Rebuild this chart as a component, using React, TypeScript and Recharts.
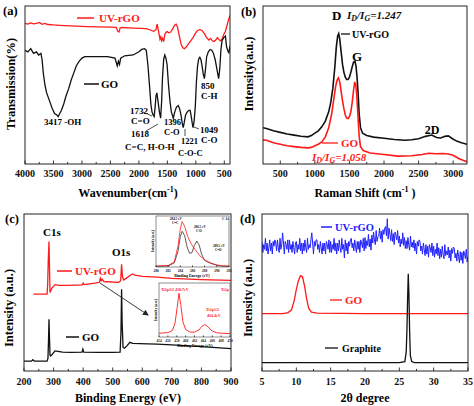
import { LineChart, Line, XAxis, YAxis } from 'recharts'

const FONT = "'Liberation Serif', 'Times New Roman', serif"
const RED = '#ff1a1a'
const BLUE = '#2020ff'
const BLACK = '#111111'

// (a) FTIR: [wavenumber, transmission % of plot height]
const ftirGO: [number, number][] = [
  [4000, 72], [3950, 71], [3900, 73], [3850, 70], [3800, 71], [3760, 69], [3720, 70], [3700, 66],
  [3680, 58], [3650, 50], [3620, 45], [3590, 42], [3560, 39], [3520, 35], [3480, 32], [3440, 31],
  [3417, 30], [3390, 32], [3360, 34], [3320, 38], [3280, 43], [3230, 48], [3190, 53], [3140, 58],
  [3100, 62], [3050, 65], [3000, 67], [2950, 68], [2850, 68], [2700, 68], [2550, 68], [2420, 67],
  [2380, 62], [2360, 65], [2340, 63], [2320, 67], [2250, 68.5], [2100, 69], [2000, 71], [1950, 72.5],
  [1900, 73], [1870, 72], [1840, 62], [1810, 48], [1790, 38], [1770, 33], [1750, 31], [1732, 30],
  [1715, 36], [1700, 43], [1685, 45], [1665, 40], [1640, 33], [1618, 29], [1600, 40], [1585, 55],
  [1565, 66], [1545, 69], [1525, 67], [1505, 63], [1480, 50], [1455, 40], [1430, 33], [1396, 29],
  [1370, 33], [1340, 36], [1310, 37], [1285, 35], [1260, 31], [1240, 26], [1221, 23], [1200, 27],
  [1180, 31], [1150, 33], [1120, 34], [1100, 34], [1080, 30], [1060, 25], [1049, 23], [1030, 27],
  [1010, 36], [990, 52], [970, 62], [950, 66.5], [930, 67.5], [910, 66], [890, 62], [870, 57],
  [850, 54], [830, 60], [810, 68], [780, 71], [750, 72.5], [720, 72], [690, 70], [660, 66],
  [630, 60], [600, 54], [580, 60], [560, 72], [540, 78], [510, 80], [480, 81], [460, 74],
  [420, 70], [400, 75],
]
const ftirRGO: [number, number][] = [
  [4000, 89], [3950, 88.5], [3900, 89.3], [3850, 88.7], [3800, 89], [3750, 89.6], [3700, 88.4],
  [3650, 89], [3600, 88.3], [3500, 88], [3400, 87.8], [3300, 87.6], [3100, 87.3], [2900, 87],
  [2700, 86.8], [2500, 86.6], [2400, 86.5], [2370, 84], [2350, 83.5], [2330, 86], [2300, 86.4],
  [2100, 86], [1950, 85.8], [1850, 85.5], [1780, 84.5], [1740, 84], [1700, 85], [1680, 88.5],
  [1665, 86], [1650, 83], [1630, 79], [1615, 80.5], [1600, 78], [1585, 79.5], [1565, 77.5],
  [1545, 82], [1520, 83.5], [1500, 83.8], [1480, 83], [1440, 83.5], [1400, 86], [1370, 88],
  [1345, 88.5], [1320, 86.5], [1290, 81], [1260, 76], [1230, 73.5], [1200, 73], [1170, 74],
  [1130, 76], [1090, 78], [1050, 80], [1010, 82.5], [970, 84.5], [930, 85], [890, 84.5],
  [850, 82.5], [810, 80], [770, 78.5], [740, 79.5], [710, 78], [680, 77.5], [650, 78.5],
  [620, 80], [600, 79], [570, 78], [540, 79], [510, 82], [480, 84], [450, 88], [420, 92], [400, 94],
]

// (b) Raman: [shift, intensity]
const ramanRGO: [number, number][] = [
  [250, 23], [300, 22.5], [400, 21], [500, 20], [600, 19], [700, 18.3], [800, 17.6], [900, 17.2],
  [950, 18], [1000, 19.5], [1050, 21], [1100, 23.5], [1150, 27], [1200, 33], [1230, 39], [1260, 48],
  [1290, 62], [1310, 74], [1330, 81], [1345, 82.5], [1360, 79], [1380, 71], [1400, 63], [1420, 58],
  [1440, 55], [1460, 53.5], [1480, 53.5], [1500, 55], [1520, 58], [1540, 61.5], [1560, 64.5],
  [1580, 65], [1595, 62], [1610, 55], [1625, 45], [1640, 32], [1660, 23], [1690, 19.5], [1750, 18],
  [1850, 17], [2000, 16.3], [2150, 15.5], [2300, 15], [2400, 15.3], [2500, 16], [2600, 17.5],
  [2690, 18.3], [2760, 16.8], [2820, 16.5], [2880, 17.5], [2930, 17.8], [2990, 16], [3050, 14.5],
  [3120, 13.5], [3200, 12.5],
]
const ramanGO: [number, number][] = [
  [250, 15.3], [300, 15], [400, 13.5], [500, 12.5], [600, 11.5], [700, 11], [800, 10.5], [900, 10.2],
  [950, 10.5], [1000, 11.5], [1050, 12.5], [1100, 14], [1150, 17], [1200, 23], [1240, 31], [1270, 40],
  [1300, 49], [1320, 53], [1340, 54.5], [1360, 52], [1380, 46], [1400, 40], [1420, 35], [1440, 31],
  [1460, 29], [1480, 28.8], [1500, 30], [1520, 33], [1540, 39], [1560, 47], [1575, 51.5], [1590, 51],
  [1605, 44], [1620, 33], [1640, 18], [1660, 11], [1700, 8.5], [1800, 7], [2000, 6], [2200, 5],
  [2400, 5.2], [2550, 6], [2650, 6.8], [2750, 6.5], [2850, 6.6], [2930, 6.3], [3000, 5.5],
  [3080, 3.5], [3150, 2.2], [3200, 1.5],
]

// (c) XPS survey: [binding energy, intensity]
const xpsGO: [number, number][] = [
  [200, 6.3], [225, 6.3], [230, 7.2], [235, 6.3], [278, 6.3], [281, 8], [283, 20], [284.5, 33],
  [286, 22], [288, 10], [290, 9.5], [295, 10.5], [305, 12.8], [315, 12.5], [330, 12], [360, 11.8],
  [396, 12], [399, 14], [402, 12], [450, 11.8], [500, 11.8], [525, 12], [528, 25], [530, 52],
  [532, 30], [535, 15], [540, 14.5], [548, 16], [558, 18.3], [568, 17.6], [590, 17.5], [650, 17.1],
  [700, 16.7], [800, 15.5], [900, 14.2],
]
const xpsRGO: [number, number][] = [
  [232, 49], [260, 49], [278, 49], [280, 55], [282, 70], [284.5, 82.5], [286, 68], [288, 50],
  [290, 51], [295, 53], [305, 55], [320, 54.5], [350, 54.5], [397, 54.8], [400, 56], [403, 55],
  [440, 56], [455, 56.5], [458, 59], [461, 57.5], [464, 58.5], [470, 57], [520, 56.5], [527, 57.5],
  [530, 68], [533, 60], [537, 58], [545, 59], [560, 61], [567, 61.8], [575, 61], [600, 60.3],
  [650, 59.8], [700, 59], [800, 58.2], [900, 57.7],
]
// insets: C1s and Ti2p
const c1sGO: [number, number][] = [
  [280, 1], [282, 2], [283, 8], [283.6, 30], [284, 60], [284.3, 70], [284.7, 62], [285.1, 40],
  [285.5, 27], [285.9, 28], [286.3, 42], [286.7, 51], [287.1, 43], [287.5, 25], [288, 13],
  [288.6, 9], [289.5, 5], [290.5, 2], [292, 1],
]
const c1sRGO: [number, number][] = [
  [280, 2], [282, 3], [283, 10], [283.6, 40], [284, 75], [284.3, 89], [284.7, 80], [285.2, 60],
  [285.8, 45], [286.5, 33], [287.2, 22], [288, 14], [289, 8], [290, 4], [291, 2.5], [292, 2],
]
const ti2p: [number, number][] = [
  [454, 7], [456, 8], [457, 12], [457.6, 25], [458.1, 55], [458.5, 81], [458.9, 60], [459.4, 28],
  [460, 14], [461, 9], [462, 9], [463, 13], [463.7, 20], [464.3, 23], [465, 19], [466, 11],
  [467, 8], [468, 7], [470, 6.5],
]

// (d) XRD
const xrdAngles = [
  5, 5.125, 5.25, 5.375, 5.5, 5.625, 5.75, 5.875, 6, 6.125, 6.25, 6.375, 6.5, 6.625, 6.75, 6.875,
  7, 7.125, 7.25, 7.375, 7.5, 7.625, 7.75, 7.875, 8, 8.125, 8.25, 8.375, 8.5, 8.625, 8.75, 8.875,
  9, 9.125, 9.25, 9.375, 9.5, 9.625, 9.75, 9.875, 10, 10.125, 10.25, 10.375, 10.5, 10.625, 10.75, 10.875,
  11, 11.125, 11.25, 11.375, 11.5, 11.625, 11.75, 11.875, 12, 12.125, 12.25, 12.375, 12.5, 12.625, 12.75, 12.875,
  13, 13.125, 13.25, 13.375, 13.5, 13.625, 13.75, 13.875, 14, 14.125, 14.25, 14.375, 14.5, 14.625, 14.75, 14.875,
  15, 15.125, 15.25, 15.375, 15.5, 15.625, 15.75, 15.875, 16, 16.125, 16.25, 16.375, 16.5, 16.625, 16.75, 16.875,
  17, 17.125, 17.25, 17.375, 17.5, 17.625, 17.75, 17.875, 18, 18.125, 18.25, 18.375, 18.5, 18.625, 18.75, 18.875,
  19, 19.125, 19.25, 19.375, 19.5, 19.625, 19.75, 19.875, 20, 20.125, 20.25, 20.375, 20.5, 20.625, 20.75, 20.875,
  21, 21.125, 21.25, 21.375, 21.5, 21.625, 21.75, 21.875, 22, 22.125, 22.25, 22.375, 22.5, 22.625, 22.75, 22.875,
  23, 23.125, 23.25, 23.375, 23.5, 23.625, 23.75, 23.875, 24, 24.125, 24.25, 24.375, 24.5, 24.625, 24.75, 24.875,
  25, 25.125, 25.25, 25.375, 25.5, 25.625, 25.75, 25.875, 26, 26.125, 26.25, 26.375, 26.5, 26.625, 26.75, 26.875,
  27, 27.125, 27.25, 27.375, 27.5, 27.625, 27.75, 27.875, 28, 28.125, 28.25, 28.375, 28.5, 28.625, 28.75, 28.875,
  29, 29.125, 29.25, 29.375, 29.5, 29.625, 29.75, 29.875, 30, 30.125, 30.25, 30.375, 30.5, 30.625, 30.75, 30.875,
  31, 31.125, 31.25, 31.375, 31.5, 31.625, 31.75, 31.875, 32, 32.125, 32.25, 32.375, 32.5, 32.625, 32.75, 32.875,
  33, 33.125, 33.25, 33.375, 33.5, 33.625, 33.75, 33.875, 34, 34.125, 34.25, 34.375, 34.5, 34.625, 34.75, 34.875,
  35,
]
const xrdRGO = [
  82.5, 75.5, 80.5, 77.5, 84.5, 76.5, 81.5, 74.5, 78.5, 83.5, 76.5, 81.5, 74.5, 82.5, 79.5, 83.5,
  81.5, 76.5, 83.5, 78.5, 75.5, 84.5, 77.5, 80.5, 88, 81.5, 74.5, 82.5, 80.5, 77.5, 83.5, 75.5,
  83.5, 77.5, 80.5, 75.5, 82.5, 78.5, 74.5, 81.5, 82.5, 75.5, 80.5, 77.5, 84.5, 76.5, 81.5, 74.5,
  81.5, 76.5, 83.5, 78.5, 75.5, 84.5, 77.5, 80.5, 78.5, 83.5, 88, 81.5, 74.5, 82.5, 79.5, 83.5,
  83.5, 77.5, 80.5, 75.5, 82.5, 78.5, 74.5, 81.5, 76.5, 81.5, 74.5, 82.5, 80.5, 77.5, 83.5, 75.5,
  82.5, 75.5, 80.5, 77.5, 84.5, 76.5, 81.5, 74.5, 81.5, 76.5, 83.5, 78.5, 75.5, 84.5, 77.5, 80.5,
  72, 83.5, 76.5, 81.5, 74.5, 82.5, 79.5, 83.5, 84.5, 78.5, 81.5, 76.5, 83.5, 79.5, 75.5, 82.5,
  77.5, 82.5, 75.5, 83.5, 81.5, 78.5, 84.5, 76.5, 85, 78, 83, 80, 87, 79, 84, 77,
  86.5, 81.5, 88.5, 83.5, 80.5, 89.5, 82.5, 85.5, 86, 91, 84, 89, 82, 90, 87, 91,
  92, 86, 97, 84, 91, 87, 83, 90, 82.5, 87.5, 80.5, 88.5, 86.5, 83.5, 89.5, 81.5,
  86, 79, 84, 81, 88, 80, 85, 78, 83, 78, 85, 80, 77, 86, 79, 82,
  78.5, 83.5, 76.5, 81.5, 74.5, 82.5, 79.5, 83.5, 82.5, 76.5, 79.5, 74.5, 81.5, 77.5, 73.5, 80.5,
  74.5, 79.5, 72.5, 80.5, 78.5, 75.5, 81.5, 73.5, 79.5, 72.5, 77.5, 74.5, 81.5, 73.5, 78.5, 71.5,
  77.5, 72.5, 79.5, 74.5, 71.5, 80.5, 73.5, 76.5, 74, 79, 72, 77, 70, 78, 75, 79,
  78, 72, 75, 70, 77, 73, 69, 76, 70.5, 75.5, 68.5, 76.5, 74.5, 71.5, 77.5, 69.5,
  73,
]
const xrdGO: [number, number][] = [
  [5, 36.6], [8, 36.6], [8.8, 37.2], [9.3, 39], [9.7, 45], [10, 52], [10.3, 57.5], [10.6, 60.7],
  [10.9, 60], [11.2, 54], [11.5, 46], [11.8, 40], [12.2, 37.5], [13, 36.8], [20, 36.6], [35, 36.6],
]
const xrdGraphite: [number, number][] = [
  [5, 5.3], [25, 5.3], [25.8, 6], [26, 12], [26.1, 25], [26.2, 45], [26.3, 62], [26.4, 48],
  [26.5, 25], [26.6, 10], [26.8, 6], [27.2, 5.3], [35, 5.3],
]

const pts = (arr: [number, number][]) => arr.map(([x, y]) => ({ x, y }))

type Series = { data: { x: number; y: number }[]; color: string; width?: number }

type PanelProps = {
  left: number
  top: number
  w: number
  h: number
  domain: [number, number]
  ticks: number[]
  minor: number[]
  reversed?: boolean
  series: Series[]
  fs?: number
  tickLen?: number
  labelDy?: number
}

function Panel({ left, top, w, h, domain, ticks, minor, reversed, series, fs = 10, tickLen = 3.5, labelDy = 13 }: PanelProps) {
  const all = [...ticks, ...minor].sort((a, b) => a - b)
  const pad = 20
  return (
    <div style={{ position: 'absolute', left: left - pad, top }}>
      <LineChart width={w + pad * 2} height={h + 20} margin={{ top: 0, right: pad, bottom: 0, left: pad }}>
        <XAxis
          dataKey="x"
          type="number"
          domain={domain}
          reversed={reversed}
          ticks={all}
          interval={0}
          height={20}
          axisLine={false}
          tickLine={false}
          tickSize={0}
          tickMargin={0}
          allowDataOverflow
          tick={(p: any) => {
            const major = ticks.includes(p.payload.value)
            return (
              <g>
                <line x1={p.x} x2={p.x} y1={p.y} y2={p.y - (major ? tickLen : tickLen * 0.6)} stroke="#222" strokeWidth={0.9} />
                {major && (
                  <text x={p.x} y={p.y + labelDy} textAnchor="middle" fontSize={fs} fontWeight="bold" fontFamily={FONT} fill="#111">
                    {p.payload.value}
                  </text>
                )}
              </g>
            )
          }}
        />
        <YAxis hide domain={[0, 100]} allowDataOverflow />
        {series.map((s, i) => (
          <Line
            key={i}
            data={s.data}
            dataKey="y"
            stroke={s.color}
            strokeWidth={s.width ?? 1.3}
            dot={false}
            isAnimationActive={false}
          />
        ))}
      </LineChart>
    </div>
  )
}

const T = { fontFamily: FONT, fontWeight: 'bold' as const, dominantBaseline: 'central' as const }

function Ratio({ x, y, value, color }: { x: number; y: number; value: string; color: string }) {
  return (
    <text x={x} y={y} {...T} fontStyle="italic" fontSize={11} fill={color}>
      I<tspan fontSize={8} dy={3}>D</tspan>
      <tspan dy={-3}>/I</tspan>
      <tspan fontSize={8} dy={3}>G</tspan>
      <tspan dy={-3}>={value}</tspan>
    </text>
  )
}

export default function App() {
  return (
    <div style={{ position: 'fixed', left: 0, top: 0, width: 474, height: 406, background: '#fff', overflow: 'hidden' }}>
      <Panel
        left={25} top={6} w={205} h={158}
        domain={[400, 4000]} reversed
        ticks={[4000, 3500, 3000, 2500, 2000, 1500, 1000, 500]}
        minor={[3750, 3250, 2750, 2250, 1750, 1250, 750]}
        series={[
          { data: pts(ftirRGO), color: RED },
          { data: pts(ftirGO), color: BLACK },
        ]}
      />
      <Panel
        left={263} top={6} w={204} h={158}
        domain={[250, 3200]}
        ticks={[500, 1000, 1500, 2000, 2500, 3000]}
        minor={[750, 1250, 1750, 2250, 2750]}
        series={[
          { data: pts(ramanRGO), color: BLACK, width: 1.6 },
          { data: pts(ramanGO), color: RED, width: 1.6 },
        ]}
      />
      <Panel
        left={24} top={214} w={207} h={157}
        domain={[200, 900]}
        ticks={[200, 300, 400, 500, 600, 700, 800, 900]}
        minor={[250, 350, 450, 550, 650, 750, 850]}
        labelDy={14}
        series={[
          { data: pts(xpsRGO), color: RED },
          { data: pts(xpsGO), color: BLACK },
        ]}
      />
      <Panel
        left={262} top={214} w={206} h={157}
        domain={[5, 35]}
        ticks={[5, 10, 15, 20, 25, 30, 35]}
        minor={[7.5, 12.5, 17.5, 22.5, 27.5, 32.5]}
        labelDy={14}
        series={[
          { data: xrdAngles.map((a, i) => ({ x: a, y: xrdRGO[i] })), color: BLUE, width: 1 },
          { data: pts(xrdGO), color: RED },
          { data: pts(xrdGraphite), color: BLACK },
        ]}
      />

      {/* inset backgrounds */}
      <div style={{ position: 'absolute', left: 156, top: 216, width: 73, height: 51, background: '#fff' }} />
      <div style={{ position: 'absolute', left: 159, top: 283, width: 71, height: 54, background: '#fff' }} />
      <Panel
        left={156} top={216} w={73} h={51}
        domain={[280, 292]}
        ticks={[280, 282, 284, 286, 288, 290, 292]}
        minor={[]}
        fs={3.5} tickLen={1.5} labelDy={4.5}
        series={[
          { data: pts(c1sGO), color: '#333', width: 0.8 },
          { data: pts(c1sRGO), color: RED, width: 0.8 },
        ]}
      />
      <Panel
        left={159} top={283} w={71} h={54}
        domain={[454, 470]}
        ticks={[454, 456, 458, 460, 462, 464, 466, 468, 470]}
        minor={[]}
        fs={3.5} tickLen={1.5} labelDy={4.5}
        series={[{ data: pts(ti2p), color: RED, width: 0.9 }]}
      />

      <svg width={474} height={406} style={{ position: 'absolute', left: 0, top: 0, pointerEvents: 'none' }}>
        {/* frames */}
        <rect x={25} y={6} width={205} height={158} fill="none" stroke="#222" strokeWidth={1} />
        <rect x={263} y={6} width={204} height={158} fill="none" stroke="#222" strokeWidth={1} />
        <rect x={24} y={214} width={207} height={157} fill="none" stroke="#222" strokeWidth={1} />
        <rect x={262} y={214} width={206} height={157} fill="none" stroke="#222" strokeWidth={1} />
        <rect x={156} y={216} width={73} height={51} fill="none" stroke="#444" strokeWidth={0.6} />
        <rect x={159} y={283} width={71} height={54} fill="none" stroke="#444" strokeWidth={0.6} />

        {/* panel letters */}
        <text x={3} y={11} {...T} fontSize={12.5}>(a)</text>
        <text x={241} y={12} {...T} fontSize={12.5}>(b)</text>
        <text x={5} y={219} {...T} fontSize={12.5}>(c)</text>
        <text x={240} y={219} {...T} fontSize={12.5}>(d)</text>

        {/* axis titles */}
        <text x={128} y={193} {...T} fontSize={12} textAnchor="middle">
          Wavenumber(cm<tspan fontSize={8} dy={-4}>-1</tspan><tspan dy={4}>)</tspan>
        </text>
        <text x={365} y={193} {...T} fontSize={12} textAnchor="middle">
          Raman Shift (cm<tspan fontSize={8} dy={-4}>-1</tspan><tspan dy={4}> )</tspan>
        </text>
        <text x={128} y={398} {...T} fontSize={12} textAnchor="middle">Binding Energy (eV)</text>
        <text x={365} y={398} {...T} fontSize={12} textAnchor="middle">2θ degree</text>
        <text transform="translate(11,84) rotate(-90)" {...T} fontSize={12.5} textAnchor="middle">Transmission(%)</text>
        <text transform="translate(249,74) rotate(-90)" {...T} fontSize={12.5} textAnchor="middle">Intensity(a.u.)</text>
        <text transform="translate(9,308) rotate(-90)" {...T} fontSize={12.5} textAnchor="middle">Intensity (a.u.)</text>
        <text transform="translate(248,298) rotate(-90)" {...T} fontSize={12.5} textAnchor="middle">Intensity (a.u.)</text>

        {/* (a) legend and band labels */}
        <line x1={77} x2={94} y1={18} y2={18} stroke={RED} strokeWidth={1.5} />
        <text x={99} y={18} {...T} fontSize={11} fill={RED}>UV-rGO</text>
        <line x1={84} x2={99} y1={84} y2={84} stroke={BLACK} strokeWidth={1.5} />
        <text x={101} y={84} {...T} fontSize={11}>GO</text>
        <text x={44} y={122} {...T} fontSize={9}>3417 -OH</text>
        <text x={130} y={111} {...T} fontSize={9}>1732</text>
        <text x={131} y={121} {...T} fontSize={9}>C=O</text>
        <line x1={143} x2={152} y1={112} y2={116} stroke="#222" strokeWidth={0.8} />
        <text x={131} y={134} {...T} fontSize={9}>1618</text>
        <line x1={146} x2={158} y1={131} y2={124} stroke="#222" strokeWidth={0.8} />
        <text x={125} y={147} {...T} fontSize={9}>C=C, H-O-H</text>
        <text x={164} y={122} {...T} fontSize={8.5}>1396</text>
        <text x={164} y={132} {...T} fontSize={8.5}>C-O</text>
        <text x={181} y={141} {...T} fontSize={8.5}>1221</text>
        <line x1={185} x2={185} y1={136} y2={129} stroke="#222" strokeWidth={0.8} />
        <text x={178} y={153} {...T} fontSize={8.5}>C-O-C</text>
        <text x={200} y={130} {...T} fontSize={9}>1049</text>
        <line x1={199} x2={194} y1={129} y2={127} stroke="#222" strokeWidth={0.8} />
        <text x={201} y={140} {...T} fontSize={9}>C-O</text>
        <text x={201} y={86} {...T} fontSize={9}>850</text>
        <text x={201} y={96} {...T} fontSize={9}>C-H</text>

        {/* (b) labels */}
        <text x={332} y={15} {...T} fontSize={13}>D</text>
        <Ratio x={347} y={15} value="1.247" color={BLACK} />
        <line x1={341} x2={350} y1={34} y2={34} stroke={BLACK} strokeWidth={1.3} />
        <text x={352} y={34} {...T} fontSize={10}>UV-rGO</text>
        <text x={352} y={56} {...T} fontSize={13}>G</text>
        <text x={432} y={130} {...T} fontSize={12} textAnchor="middle">2D</text>
        <line x1={322} x2={338} y1={143} y2={143} stroke={RED} strokeWidth={1.3} />
        <text x={341} y={143} {...T} fontSize={11} fill={RED}>GO</text>
        <Ratio x={312} y={157} value="1.058" color={RED} />

        {/* (c) labels */}
        <text x={43} y={232} {...T} fontSize={11}>C1s</text>
        <text x={112} y={252} {...T} fontSize={11}>O1s</text>
        <line x1={57} x2={72} y1={271} y2={271} stroke={RED} strokeWidth={1.5} />
        <text x={75} y={271} {...T} fontSize={11} fill={RED}>UV-rGO</text>
        <line x1={66} x2={79} y1={337} y2={337} stroke={BLACK} strokeWidth={1.5} />
        <text x={82} y={337} {...T} fontSize={11}>GO</text>
        <defs>
          <marker id="ah" markerWidth={6} markerHeight={6} refX={5} refY={3} orient="auto" markerUnits="userSpaceOnUse">
            <path d="M0,0 L6,3 L0,6 z" fill="#222" />
          </marker>
        </defs>
        <line x1={100} y1={283} x2={148} y2={315} stroke="#222" strokeWidth={0.9} markerEnd="url(#ah)" />

        {/* insets text */}
        <text x={192} y={275.5} {...T} fontSize={4} textAnchor="middle">Binding Energy (eV)</text>
        <text transform="translate(153,241) rotate(-90)" {...T} fontSize={3.5} textAnchor="middle">Intensity (a.u.)</text>
        <text x={170} y={219} {...T} fontSize={3.2}>284.5 eV</text>
        <text x={172} y={223} {...T} fontSize={3.2}>C=C</text>
        <text x={194} y={227} {...T} fontSize={3.2}>286.5 eV</text>
        <text x={196} y={231} {...T} fontSize={3.2}>C-O</text>
        <text x={213} y={246} {...T} fontSize={3.2}>288.5 eV</text>
        <text x={215} y={250} {...T} fontSize={3.2}>C=O</text>
        <text x={222} y={219} {...T} fontSize={3.5}>C 1s</text>
        <text x={195} y={345} {...T} fontSize={4} textAnchor="middle">Binding Energy (eV)</text>
        <text transform="translate(156,310) rotate(-90)" {...T} fontSize={3.5} textAnchor="middle">Intensity (a.u.)</text>
        <text x={161} y={289} {...T} fontSize={4} fill={RED}>Ti2p3/2</text>
        <text x={175} y={289} {...T} fontSize={4} fill={RED}>458.7eV</text>
        <text x={206} y={309} {...T} fontSize={4} fill={RED}>Ti2p1/2</text>
        <text x={207} y={315} {...T} fontSize={4} fill={RED}>464.4eV</text>
        <text x={221} y={289} {...T} fontSize={4} fill={RED}>Ti2p</text>

        {/* (d) labels */}
        <line x1={321} x2={332} y1={227} y2={227} stroke={BLUE} strokeWidth={1.5} />
        <text x={335} y={227} {...T} fontSize={10.5} fill={BLUE}>UV-rGO</text>
        <line x1={330} x2={342} y1={300} y2={300} stroke={RED} strokeWidth={1.3} />
        <text x={345} y={300} {...T} fontSize={11} fill={RED}>GO</text>
        <line x1={325} x2={338} y1={348} y2={348} stroke={BLACK} strokeWidth={1.3} />
        <text x={342} y={348} {...T} fontSize={10}>Graphite</text>
      </svg>
    </div>
  )
}
